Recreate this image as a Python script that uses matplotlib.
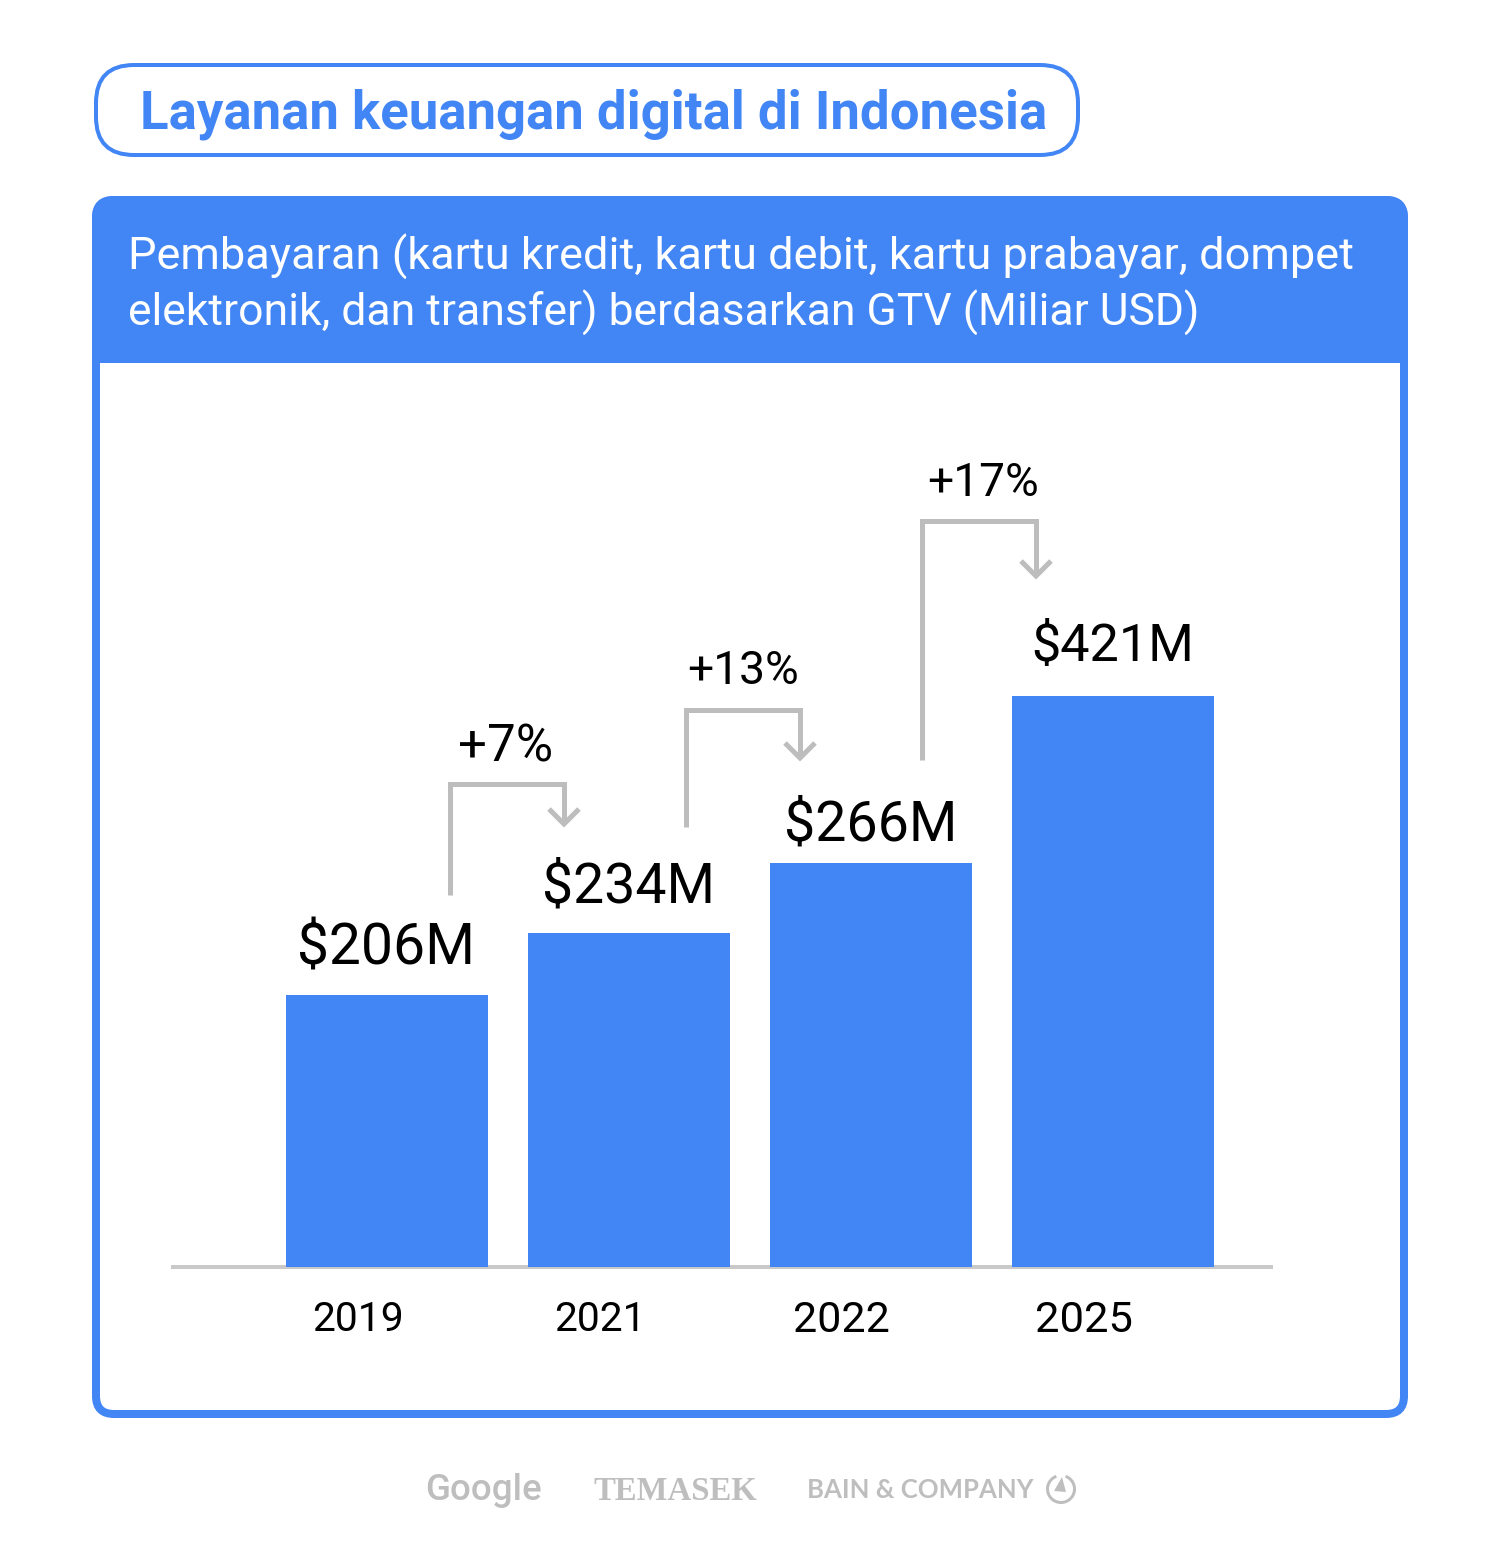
import matplotlib
matplotlib.use("Agg")
import matplotlib.pyplot as plt
from matplotlib.patches import FancyBboxPatch, Rectangle, Polygon, Arc

years = ["2019", "2021", "2022", "2025"]
bar_heights = [272, 334, 404, 571]   # drawn bar heights (px)
value_labels = ["$206M", "$234M", "$266M", "$421M"]
growth_labels = ["+7%", "+13%", "+17%"]

BLUE = "#4285F4"
GREY = "#BDBDBD"
LOGO = "#BEBEBE"
FONT = "Roboto"
W, H = 1500, 1561
PT = 72 / 100  # px to pt

fig = plt.figure(figsize=(W / 100, H / 100), dpi=100, facecolor="white")
renderer = fig.canvas.get_renderer()


def fit(artist, width):
    """Scale a text's font size so that it spans the given width in pixels."""
    bb = artist.get_window_extent(renderer)
    artist.set_fontsize(artist.get_fontsize() * width / bb.width)
    return artist


# overlay in pixel coordinates for the furniture
bg = fig.add_axes([0, 0, 1, 1], zorder=0)
bg.set_xlim(0, W)
bg.set_ylim(H, 0)
bg.axis("off")

bg.add_patch(FancyBboxPatch((96, 65), 982, 90, boxstyle="round,pad=0,rounding_size=38",
                            fc="white", ec=BLUE, lw=4 * PT))
fit(bg.text(140, 128, "Layanan keuangan digital di Indonesia", color=BLUE, fontsize=36,
            fontweight="bold", family=FONT, va="baseline", ha="left"), 906)

bg.add_patch(FancyBboxPatch((96, 200), 1308, 1214, boxstyle="round,pad=0,rounding_size=18",
                            fc="white", ec=BLUE, lw=8 * PT))
bg.add_patch(FancyBboxPatch((92, 196), 1316, 300, boxstyle="round,pad=0,rounding_size=22",
                            fc=BLUE, ec="none"))
bg.add_patch(Rectangle((100, 363), 1300, 140, fc="white", ec="none"))
bg.add_patch(Rectangle((92, 340), 8, 160, fc=BLUE, ec="none"))
bg.add_patch(Rectangle((1400, 340), 8, 160, fc=BLUE, ec="none"))

fit(bg.text(128, 270, "Pembayaran (kartu kredit, kartu debit, kartu prabayar, dompet",
            color="white", fontsize=33, family=FONT, va="baseline", ha="left"), 1228)
fit(bg.text(128, 326, "elektronik, dan transfer) berdasarkan GTV (Miliar USD)",
            color="white", fontsize=33, family=FONT, va="baseline", ha="left"), 1072)

# bar chart
base_y, top_y = 1267, 400
x0, x1 = 171, 1273
first, step = 386.5, 242.17
ax = fig.add_axes([x0 / W, (H - base_y) / H, (x1 - x0) / W, (base_y - top_y) / H], zorder=1)
ax.patch.set_alpha(0)
ax.set_xlim((x0 - first) / step, (x1 - first) / step)
ax.set_ylim(0, base_y - top_y)
pos = list(range(len(years)))
ax.bar(pos, bar_heights, width=202 / step, color=BLUE, zorder=3)
for s in ("top", "left", "right"):
    ax.spines[s].set_visible(False)
ax.spines["bottom"].set_color("#C9C9C9")
ax.spines["bottom"].set_linewidth(4 * PT)
ax.spines["bottom"].set_capstyle("butt")
ax.set_yticks([])
ax.set_xticks([p - 29 / step for p in pos])
ax.set_xticklabels(years, fontsize=33, family=FONT, color="black")
ax.tick_params(axis="x", length=0, pad=24)
for t, w in zip(ax.get_xticklabels(), [92, 92, 97, 98]):
    fit(t, w)
gaps = [31, 30, 22, 35]
value_widths = [178, 173, 173, 163]
for p, h, lab, g, w in zip(pos, bar_heights, value_labels, gaps, value_widths):
    fit(ax.text(p, h + g, lab, ha="center", va="baseline", fontsize=42, family=FONT,
                color="black"), w)

# growth brackets
over = fig.add_axes([0, 0, 1, 1], zorder=2)
over.set_xlim(0, W)
over.set_ylim(H, 0)
over.axis("off")
brackets = [(450, 895, 784, 564, 825), (686, 827, 710, 800, 759), (922, 760, 521, 1036, 577)]
label_xy = [(506, 761), (743, 684), (983, 496)]
growth_widths = [95, 112, 112]
for (xa, ya, yt, xb, yb), txt, (tx, ty), w in zip(brackets, growth_labels, label_xy, growth_widths):
    over.plot([xa, xa, xb, xb], [ya, yt, yt, yb - 3], color=GREY, lw=5 * PT,
              solid_joinstyle="miter", solid_capstyle="butt")
    over.plot([xb - 15, xb, xb + 15], [yb - 16, yb - 1, yb - 16], color=GREY, lw=5 * PT,
              solid_joinstyle="miter", solid_capstyle="butt")
    fit(over.text(tx, ty, txt, ha="center", va="baseline", fontsize=33, family=FONT,
                  color="black"), w)

# logos
fit(over.text(483.5, 1500, "Google", color=LOGO, fontsize=27, family=FONT, fontweight=500,
              ha="center", va="baseline"), 117)
fit(over.text(675, 1500, "TEMASEK", color=LOGO, fontsize=23, family="Liberation Serif",
              fontweight="bold", ha="center", va="baseline"), 164)
fit(over.text(920, 1498, "BAIN & COMPANY", color=LOGO, fontsize=17, family="Lato",
              fontweight="bold", ha="center", va="baseline"), 226)
over.add_patch(Arc((1061, 1489), 27, 27, theta1=-70, theta2=250, ec=LOGO, lw=3 * PT))
over.add_patch(Polygon([(1062, 1477), (1054, 1491), (1066, 1492)], fc=LOGO, ec="none"))

fig.savefig("out.png", dpi=100, facecolor="white")
